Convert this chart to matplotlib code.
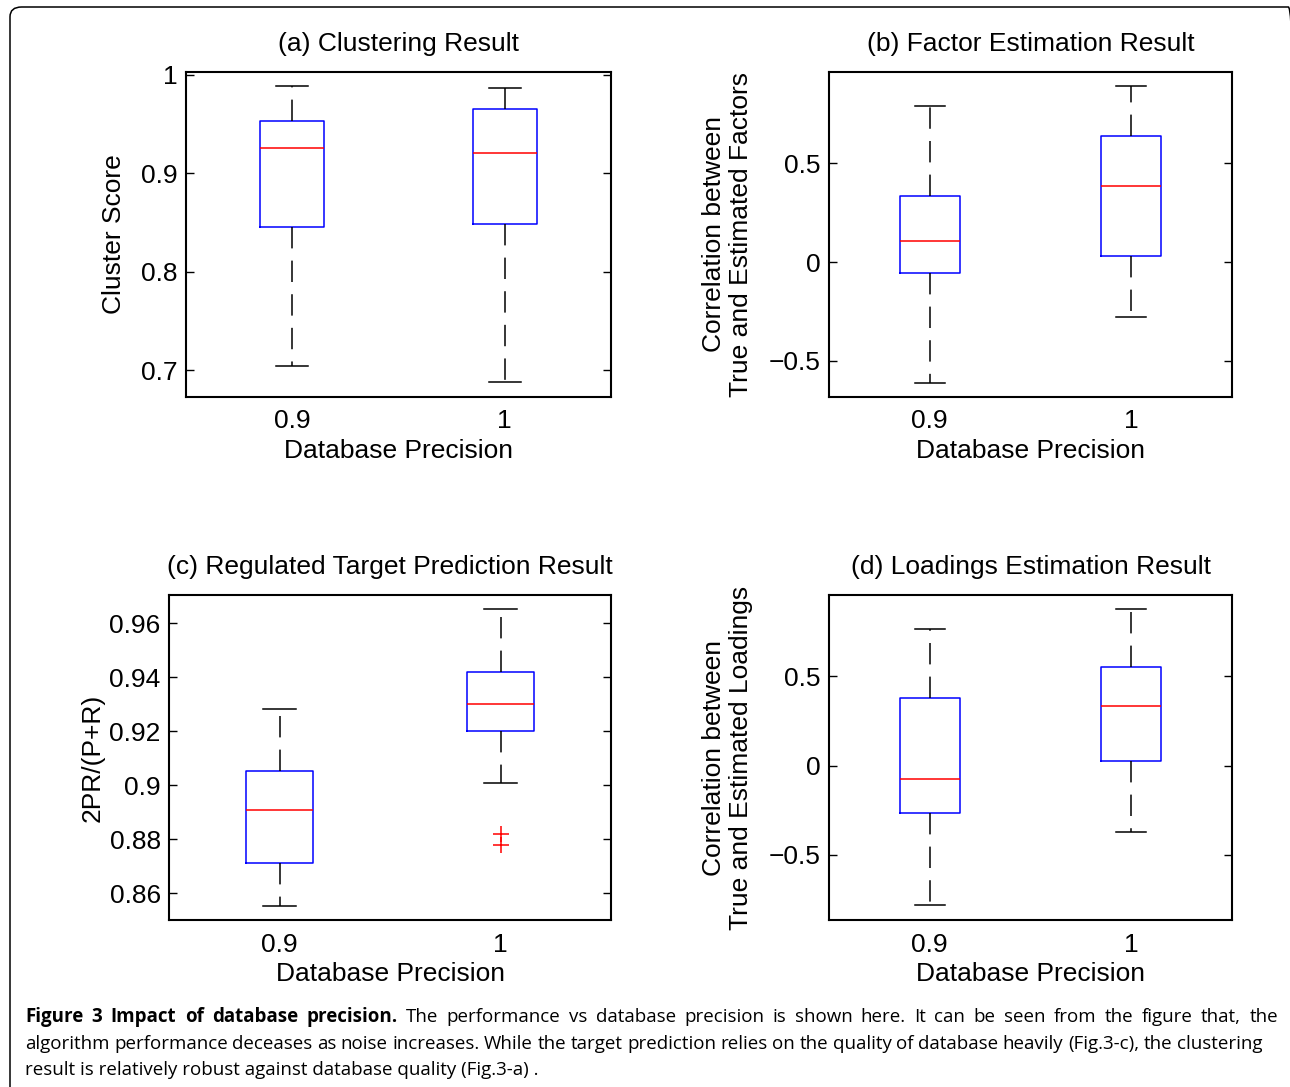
import matplotlib.pyplot as plt
from matplotlib.patches import FancyBboxPatch

# box statistics: [x=0.9, x=1]
cats = ['0.9', '1']

a_lo  = [0.704, 0.688]
a_q1  = [0.846, 0.849]
a_med = [0.926, 0.921]
a_q3  = [0.953, 0.965]
a_hi  = [0.989, 0.987]

b_lo  = [-0.611, -0.278]
b_q1  = [-0.056, 0.030]
b_med = [0.106, 0.384]
b_q3  = [0.333, 0.636]
b_hi  = [0.788, 0.889]

c_lo  = [0.8552, 0.9007]
c_q1  = [0.8711, 0.9200]
c_med = [0.8907, 0.9300]
c_q3  = [0.9052, 0.9419]
c_hi  = [0.9281, 0.9652]
c_out = [[], [0.8819, 0.8778]]

d_lo  = [-0.783, -0.375]
d_q1  = [-0.265, 0.026]
d_med = [-0.077, 0.334]
d_q3  = [0.379, 0.554]
d_hi  = [0.765, 0.877]

FS = 19
plt.rcParams['font.family'] = ['Liberation Sans', 'DejaVu Sans']
plt.rcParams['axes.unicode_minus'] = True

W, H = 1290, 1087
fig = plt.figure(figsize=(W/100, H/100), dpi=100)

def px_axes(x0, y0, x1, y1):
    return fig.add_axes([x0/W, 1-y1/H, (x1-x0)/W, (y1-y0)/H])

def stats(lo, q1, med, q3, hi, out=None):
    res = []
    for i in range(len(lo)):
        res.append(dict(whislo=lo[i], q1=q1[i], med=med[i], q3=q3[i], whishi=hi[i],
                        fliers=(out[i] if out else [])))
    return res

def draw(ax, st, ylim, yticks, yticklabels, title, ylabel, ylab_x):
    ax.bxp(st, positions=[1, 2], widths=0.3,
           boxprops=dict(color='blue', lw=1.1),
           medianprops=dict(color='red', lw=1.1),
           whiskerprops=dict(color='black', lw=1.1, linestyle=(0, (14, 8))),
           capprops=dict(color='black', lw=1.1),
           flierprops=dict(marker='+', markeredgecolor='red', markersize=11, markeredgewidth=1.1),
           capwidths=0.15)
    ax.set_xlim(0.5, 2.5)
    ax.set_ylim(*ylim)
    ax.set_xticks([1, 2])
    ax.set_xticklabels(cats, fontsize=FS)
    ax.set_yticks(yticks)
    ax.set_yticklabels(yticklabels, fontsize=FS)
    ax.tick_params(axis='y', direction='in', length=6, width=1, right=True, pad=6)
    ax.tick_params(axis='x', length=0, pad=9)
    for s in ax.spines.values():
        s.set_linewidth(1.5)
    ax.set_title(title, fontsize=FS, pad=15)
    ax.set_xlabel('Database Precision', fontsize=FS, labelpad=4)
    ax.text(ylab_x, 0.5, ylabel, transform=ax.transAxes, rotation=90, ha='center',
            va='center', fontsize=FS, linespacing=1.15, multialignment='center')

ax_a = px_axes(186, 72, 611, 397)
draw(ax_a, stats(a_lo, a_q1, a_med, a_q3, a_hi), (0.673, 1.003),
     [0.7, 0.8, 0.9, 1.0], ['0.7', '0.8', '0.9', '1'],
     '(a) Clustering Result', 'Cluster Score', -0.169)

ax_b = px_axes(829, 72, 1232, 397)
draw(ax_b, stats(b_lo, b_q1, b_med, b_q3, b_hi), (-0.682, 0.96),
     [-0.5, 0, 0.5], ['\u22120.5', '0', '0.5'],
     '(b) Factor Estimation Result',
     'Correlation between\nTrue and Estimated Factors', -0.251)

ax_c = px_axes(169, 595, 611, 920)
draw(ax_c, stats(c_lo, c_q1, c_med, c_q3, c_hi, c_out), (0.850, 0.9704),
     [0.86, 0.88, 0.9, 0.92, 0.94, 0.96], ['0.86', '0.88', '0.9', '0.92', '0.94', '0.96'],
     '(c) Regulated Target Prediction Result', '2PR/(P+R)', -0.172)

ax_d = px_axes(829, 595, 1232, 920)
draw(ax_d, stats(d_lo, d_q1, d_med, d_q3, d_hi), (-0.867, 0.957),
     [-0.5, 0, 0.5], ['\u22120.5', '0', '0.5'],
     '(d) Loadings Estimation Result',
     'Correlation between\nTrue and Estimated Loadings', -0.251)

# rounded frame around the figure
frame = FancyBboxPatch((10/W, -20/H), (1300-10)/W, (H-7+20)/H,
                       boxstyle='round,pad=0,rounding_size=0.009',
                       transform=fig.transFigure, fill=False, ec='black', lw=1.1,
                       clip_on=False)
fig.patches.append(frame)

# caption
CAP = 13.5
cap_font = ['Open Sans', 'DejaVu Sans']
r = fig.canvas.get_renderer()

def line_just(words, nbold, x0, x1, ybase):
    objs = []
    for i, w in enumerate(words):
        t = fig.text(0, 1-ybase/H, w, fontsize=CAP, family=cap_font,
                     fontweight='bold' if i < nbold else 'normal', va='baseline')
        objs.append(t)
    widths = [t.get_window_extent(r).width for t in objs]
    gap = (x1 - x0 - sum(widths)) / (len(objs) - 1)
    x = x0
    for t, w in zip(objs, widths):
        t.set_x(x/W)
        x += w + gap

l1_bold = 'Figure 3 Impact of database precision.'.split()
l1_rest = 'The performance vs database precision is shown here. It can be seen from the figure that, the'.split()
line_just(l1_bold + l1_rest, len(l1_bold), 25, 1278, 1022)
l2 = 'algorithm performance deceases as noise increases. While the target prediction relies on the quality of database heavily (Fig.3-c), the clustering'.split()
line_just(l2, 0, 25, 1262, 1049)
fig.text(25/W, 1-1075/H, 'result is relatively robust against database quality (Fig.3-a) .',
         fontsize=CAP, family=cap_font, va='baseline')

fig.savefig('out.png', dpi=100)
